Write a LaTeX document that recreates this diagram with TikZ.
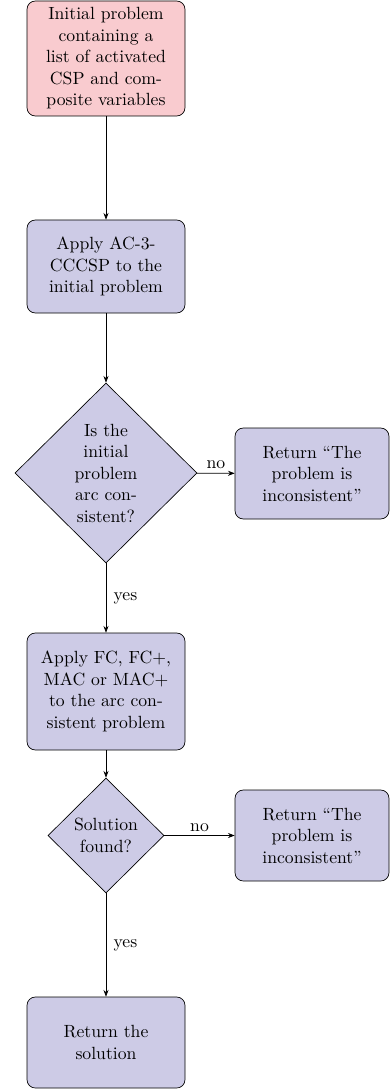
\documentclass[tikz,border=0pt]{standalone}
\usetikzlibrary{shapes.geometric,arrows.meta}
\definecolor{boxfill}{RGB}{205,203,230}
\definecolor{startfill}{RGB}{249,203,207}
\begin{document}
\begin{tikzpicture}[x=0.6pt,y=-0.6pt,
  txt/.style={font=\fontsize{10.6}{12.9}\selectfont},
  procbox/.style={draw, rectangle, rounded corners=5pt, fill=boxfill, align=center, text width=90pt, inner sep=2pt, minimum width=94.8pt, txt},
  startbox/.style={procbox, fill=startfill},
  decbox/.style={draw, diamond, fill=boxfill, align=center, inner sep=0pt, txt},
  conn/.style={draw, -{Stealth[length=4pt,width=3pt]}, line width=0.4pt},
  lbl/.style={txt}
]
\useasboundingbox (0,0) rectangle (390,1090);
\node[startbox, minimum height=69pt] (init) at (106,58.5) {Initial problem\\containing a\\list of activated\\CSP and com-\\posite variables};
\node[procbox, minimum height=55.8pt] (ac3) at (106,266.5) {Apply AC-3-\\CCCSP to the\\initial problem};
\node[decbox, minimum width=109.2pt, minimum height=108pt] (d1) at (106,473) {Is the\\initial\\problem\\arc con-\\sistent?};
\node[procbox, text width=88pt, minimum width=92.4pt, minimum height=54.6pt] (r1) at (312,473.5) {Return ``The\\problem is\\inconsistent''};
\node[procbox, minimum height=70.2pt] (fc) at (106,691.5) {Apply FC, FC+,\\MAC or MAC+\\to the arc con-\\sistent problem};
\node[decbox, minimum width=69.6pt, minimum height=69pt] (d2) at (106,835.5) {Solution\\found?};
\node[procbox, text width=88pt, minimum width=92.4pt, minimum height=54.6pt] (r2) at (312,835.5) {Return ``The\\problem is\\inconsistent''};
\node[procbox, minimum height=54.6pt] (sol) at (106,1042.5) {Return the\\solution};
\draw[conn] (init) -- (ac3);
\draw[conn] (ac3) -- (d1);
\draw[conn] (d1) -- node[lbl, right, xshift=1pt] {yes} (fc);
\draw[conn] (d1) -- node[lbl, above, yshift=-1pt] {no} (r1);
\draw[conn] (fc) -- (d2);
\draw[conn] (d2) -- node[lbl, right, xshift=1pt] {yes} (sol);
\draw[conn] (d2) -- node[lbl, above, yshift=-1pt] {no} (r2);
\end{tikzpicture}
\end{document}
